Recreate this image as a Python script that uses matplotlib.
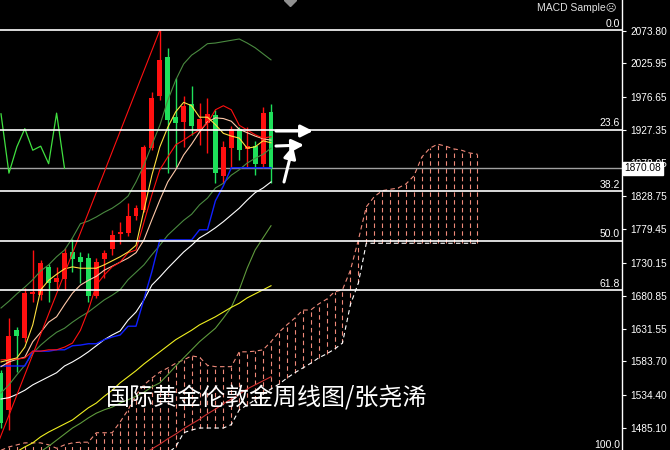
import matplotlib
matplotlib.use('Agg')
import matplotlib.pyplot as plt
from matplotlib.lines import Line2D
import numpy as np

plt.rcParams['font.family'] = ['Liberation Sans', 'DejaVu Sans']

# weekly candles, red = up week, green = down week
opens = [1567, 1512, 1630, 1619, 1684, 1682, 1724, 1702, 1706, 1746, 1739, 1737, 1681, 1736, 1751,
         1773, 1774, 1800, 1808, 1900, 1977, 2035, 1946, 1939, 1966, 1929, 1937, 1949, 1859, 1900,
         1929, 1899, 1903, 1877, 1954]
highs = [1571, 1648, 1635, 1693, 1749, 1734, 1728, 1724, 1752, 1765, 1746, 1745, 1737, 1749, 1779,
         1791, 1819, 1816, 1905, 1983, 2075, 2049, 2004, 1977, 1992, 1967, 1975, 1957, 1911, 1933,
         1932, 1932, 1911, 1961, 1966]
lows = [1485, 1482, 1568, 1613, 1672, 1675, 1672, 1690, 1690, 1716, 1700, 1672, 1678, 1708, 1742,
        1758, 1770, 1794, 1805, 1897, 1972, 1863, 1872, 1902, 1920, 1905, 1893, 1848, 1848, 1872,
        1883, 1872, 1860, 1871, 1848]
closes = [1493, 1622, 1622, 1685, 1687, 1730, 1700, 1708, 1745, 1736, 1731, 1681, 1731, 1745, 1771,
          1776, 1800, 1811, 1902, 1975, 2031, 1942, 1937, 1963, 1933, 1943, 1951, 1863, 1902, 1929,
          1897, 1903, 1877, 1952, 1870.08]

# ichimoku lines
tenkan = [1586, 1587, 1587, 1589, 1599, 1599, 1601, 1601, 1605, 1611, 1630, 1660, 1697, 1712, 1724,
          1731, 1745, 1749, 1790, 1831, 1868, 1887, 1905, 1912, 1920, 1927, 1937, 1957, 1963, 1957,
          1934, 1927, 1920, 1915, 1917]
kijun = [1577, 1577, 1577, 1577, 1599, 1599, 1599, 1601, 1601, 1607, 1608, 1610, 1610, 1616, 1620,
         1623, 1636, 1636, 1676, 1717, 1764, 1764, 1764, 1764, 1764, 1779, 1779, 1822, 1844, 1871,
         1871, 1871, 1871, 1871, 1871]
span_a = [1452, 1457, 1460, 1463, 1463, 1463, 1460, 1455, 1460, 1463, 1464, 1464, 1478, 1478, 1478,
          1494, 1512, 1534, 1549, 1559, 1568, 1574, 1581, 1586, 1592, 1590, 1578, 1576, 1576, 1576,
          1598, 1598, 1599, 1601, 1613, 1627, 1638, 1648, 1660, 1660, 1669, 1676, 1687, 1690, 1719,
          1764, 1813, 1828, 1837, 1839, 1841, 1847, 1859, 1887, 1900, 1906, 1903, 1899, 1897, 1893,
          1891]
span_b = [1420, 1420, 1420, 1420, 1420, 1420, 1420, 1420, 1420, 1420, 1420, 1420, 1420, 1420, 1420,
          1420, 1420, 1420, 1425, 1432, 1440, 1448, 1457, 1478, 1482, 1485, 1485, 1485, 1485, 1490,
          1512, 1519, 1527, 1535, 1543, 1550, 1559, 1567, 1574, 1581, 1589, 1595, 1602, 1611, 1668,
          1700, 1759, 1759, 1759, 1759, 1759, 1759, 1759, 1759, 1759, 1759, 1759, 1759, 1759, 1759,
          1759]

# moving averages
ma_yellow = [1583, 1586, 1589, 1605, 1638, 1690, 1704, 1713, 1721, 1724, 1722, 1722, 1722, 1727, 1733,
             1739, 1746, 1756, 1808, 1860, 1902, 1931, 1954, 1968, 1963, 1946, 1946, 1935, 1922, 1918,
             1915, 1900, 1902, 1911, 1908]
ma_pink = [1576, 1583, 1587, 1590, 1613, 1627, 1642, 1650, 1668, 1685, 1697, 1704, 1710, 1719, 1725,
           1731, 1737, 1745, 1764, 1794, 1823, 1850, 1868, 1890, 1906, 1924, 1939, 1945, 1944, 1940,
           1928, 1923, 1918, 1914, 1912]
band_up = [1663, 1673, 1684, 1694, 1705, 1718, 1727, 1739, 1749, 1767, 1788, 1792, 1798, 1805, 1811,
           1819, 1829, 1850, 1875, 1905, 1934, 1971, 2001, 2025, 2038, 2046, 2055, 2056, 2058, 2060,
           2062, 2056, 2049, 2040, 2031]
band_low = [1537, 1549, 1564, 1578, 1596, 1608, 1618, 1627, 1633, 1642, 1650, 1657, 1666, 1675, 1682,
            1690, 1705, 1716, 1727, 1742, 1756, 1771, 1782, 1793, 1802, 1816, 1826, 1841, 1848, 1860,
            1868, 1878, 1885, 1891, 1900]
ma_white = [1528, 1530, 1535, 1541, 1549, 1555, 1561, 1567, 1577, 1583, 1590, 1598, 1607, 1616, 1623,
            1629, 1645, 1657, 1675, 1697, 1709, 1722, 1734, 1746, 1756, 1767, 1774, 1782, 1791, 1801,
            1811, 1823, 1834, 1841, 1850]
ma_yellow_long = [1438, 1444, 1450, 1457, 1463, 1472, 1479, 1485, 1491, 1497, 1506, 1515, 1522, 1532,
                  1541, 1552, 1561, 1570, 1580, 1589, 1598, 1607, 1616, 1623, 1630, 1638, 1644, 1650,
                  1657, 1664, 1670, 1678, 1684, 1690, 1696]
ma_green_long = [1411, 1420, 1429, 1436, 1444, 1450, 1458, 1467, 1476, 1485, 1492, 1500, 1507, 1512,
                 1516, 1522, 1527, 1532, 1538, 1546, 1552, 1564, 1577, 1589, 1601, 1613, 1623, 1633,
                 1648, 1664, 1690, 1722, 1749, 1767, 1785]
ma_red_long = [1400, 1400, 1400, 1400, 1400, 1400, 1400, 1400, 1400, 1400, 1400, 1400, 1400, 1400,
               1400, 1400, 1420, 1435, 1446, 1454, 1461, 1469, 1476, 1484, 1491, 1498, 1506, 1513,
               1521, 1528, 1535, 1543, 1549, 1555, 1561]

fib_high, fib_low = 2075.0, 1451.0
fib_high_bar, fib_low_bar = 20, -0.76
fib_ratios = [0.0, 23.6, 38.2, 50.0, 61.8, 100.0]

price_ticks = [2073.80, 2025.95, 1976.65, 1927.35, 1878.05, 1828.75, 1779.45, 1730.15, 1680.85,
               1631.55, 1583.70, 1534.40, 1485.10]

RED = '#ff1010'
GREEN = '#1ee05a'
CLOUD = '#f08a7a'

fig = plt.figure(figsize=(6.7, 4.5), dpi=100)
fig.patch.set_facecolor('black')
ax = fig.add_axes([0, 0, 622 / 670, 1])
ax.set_facecolor('black')

o = np.array(opens); h = np.array(highs); l = np.array(lows); c = np.array(closes)
x = np.arange(len(c))
col = np.where(c >= o, RED, GREEN)

# cloud (hatched with dashed vertical lines)
xc = np.arange(len(span_a))
ax.vlines(xc, span_b, span_a, colors=CLOUD, lw=0.8, linestyles=[(0, (4, 3))], zorder=1)
ax.plot(xc, span_a, color=CLOUD, lw=0.8, ls=(0, (4, 3)), zorder=1)
ax.plot(xc, span_b, color='white', lw=0.8, ls=(0, (4, 3)), zorder=1)

# current price line
ax.axhline(c[-1], color='#a0a0a0', lw=1, zorder=2)

# candles
ax.vlines(x, l, h, colors=col, lw=1, zorder=4)
ax.bar(x, np.maximum(np.abs(c - o), 1.6), bottom=np.minimum(o, c), width=0.62, color=col,
       linewidth=0, zorder=4)

# indicators
ax.plot(x, ma_green_long, color='#5f9a3c', lw=0.8, zorder=5)
ax.plot(x, ma_yellow_long, color='#f0f020', lw=0.8, zorder=5)
ax.plot(x, ma_red_long, color='#d03030', lw=0.8, zorder=5)
ax.plot(x, ma_white, color='white', lw=0.8, zorder=5)
ax.plot(x, band_low, color='#4a8a40', lw=0.8, zorder=5)
ax.plot(x, band_up, color='#4a8a40', lw=0.8, zorder=5)
ax.plot(x, kijun, color='#1020ff', lw=1.0, zorder=5)
ax.plot(x, ma_pink, color='#ffc8a8', lw=0.8, zorder=5)
ax.plot(x, tenkan, color=RED, lw=0.8, zorder=5)
ax.plot(x, ma_yellow, color='#ffe040', lw=0.8, zorder=5)
# lagging span: closes shifted back 26 weeks
ax.plot(x[:len(c) - 26], c[26:], color='#40e040', lw=0.9, zorder=5)

# fibonacci retracement
ax.plot([fib_low_bar, fib_high_bar], [fib_low, fib_high], color=RED, lw=0.8, zorder=5)
for r in fib_ratios:
    lvl = fib_high - (fib_high - fib_low) * r / 100
    ax.axhline(lvl, color='white', lw=1.2, zorder=6)
    ax.text(0.997, lvl + 2, f'{r:.1f}', transform=ax.get_yaxis_transform(), ha='right',
            va='bottom', color='white', fontsize=7.5, zorder=7)

ax.set_xlim(-0.126, 78.2)
ax.set_ylim(1452.4, 2119.8)

# right price scale
ax.yaxis.tick_right()
ax.set_yticks(price_ticks)
ax.set_yticklabels([f'{t:.2f}' for t in price_ticks])
ax.tick_params(axis='y', colors='white', length=3, width=0.8, pad=3, labelsize=7.3)
ax.set_xticks([])
for s in ['top', 'bottom', 'left']:
    ax.spines[s].set_visible(False)
ax.spines['right'].set_color('white')
ax.spines['right'].set_linewidth(1)

ax.text(1.004, c[-1], f'{c[-1]:.2f}', transform=ax.get_yaxis_transform(), ha='left',
        va='center', color='black', fontsize=7.3, zorder=10, clip_on=False,
        bbox=dict(boxstyle='square,pad=0.15', fc='white', ec='white'))

# arrows
arrow = dict(arrowstyle='-|>', color='white', lw=2.2, mutation_scale=18, shrinkA=0, shrinkB=0)
ax.annotate('', xy=(313, 450 - 131), xytext=(276, 450 - 131), xycoords='figure pixels',
            textcoords='figure pixels', arrowprops=arrow, zorder=9)
ax.annotate('', xy=(304, 450 - 145), xytext=(276, 450 - 146), xycoords='figure pixels',
            textcoords='figure pixels', arrowprops=arrow, zorder=9)
ax.annotate('', xy=(293, 450 - 146), xytext=(284, 450 - 182), xycoords='figure pixels',
            textcoords='figure pixels', arrowprops=arrow, zorder=9)

# chart shift marker at the top
fig.add_artist(Line2D([290 / 670], [1.0], marker='D', markersize=6, color='#909090',
                      transform=fig.transFigure))

fig.text(617 / 670, 1 - 8 / 450, 'MACD Sample\u2639', ha='right', va='center', color='#e0e0e0',
         fontsize=7.5)
fig.text(106 / 670, 1 - 398 / 450, '国际黄金伦敦金周线图/张尧浠', ha='left', va='center',
         color='white', fontsize=17.3, family=['Noto Sans CJK SC', 'DejaVu Sans'], zorder=10)

plt.savefig('out.png', dpi=100, facecolor='black')
plt.close()
